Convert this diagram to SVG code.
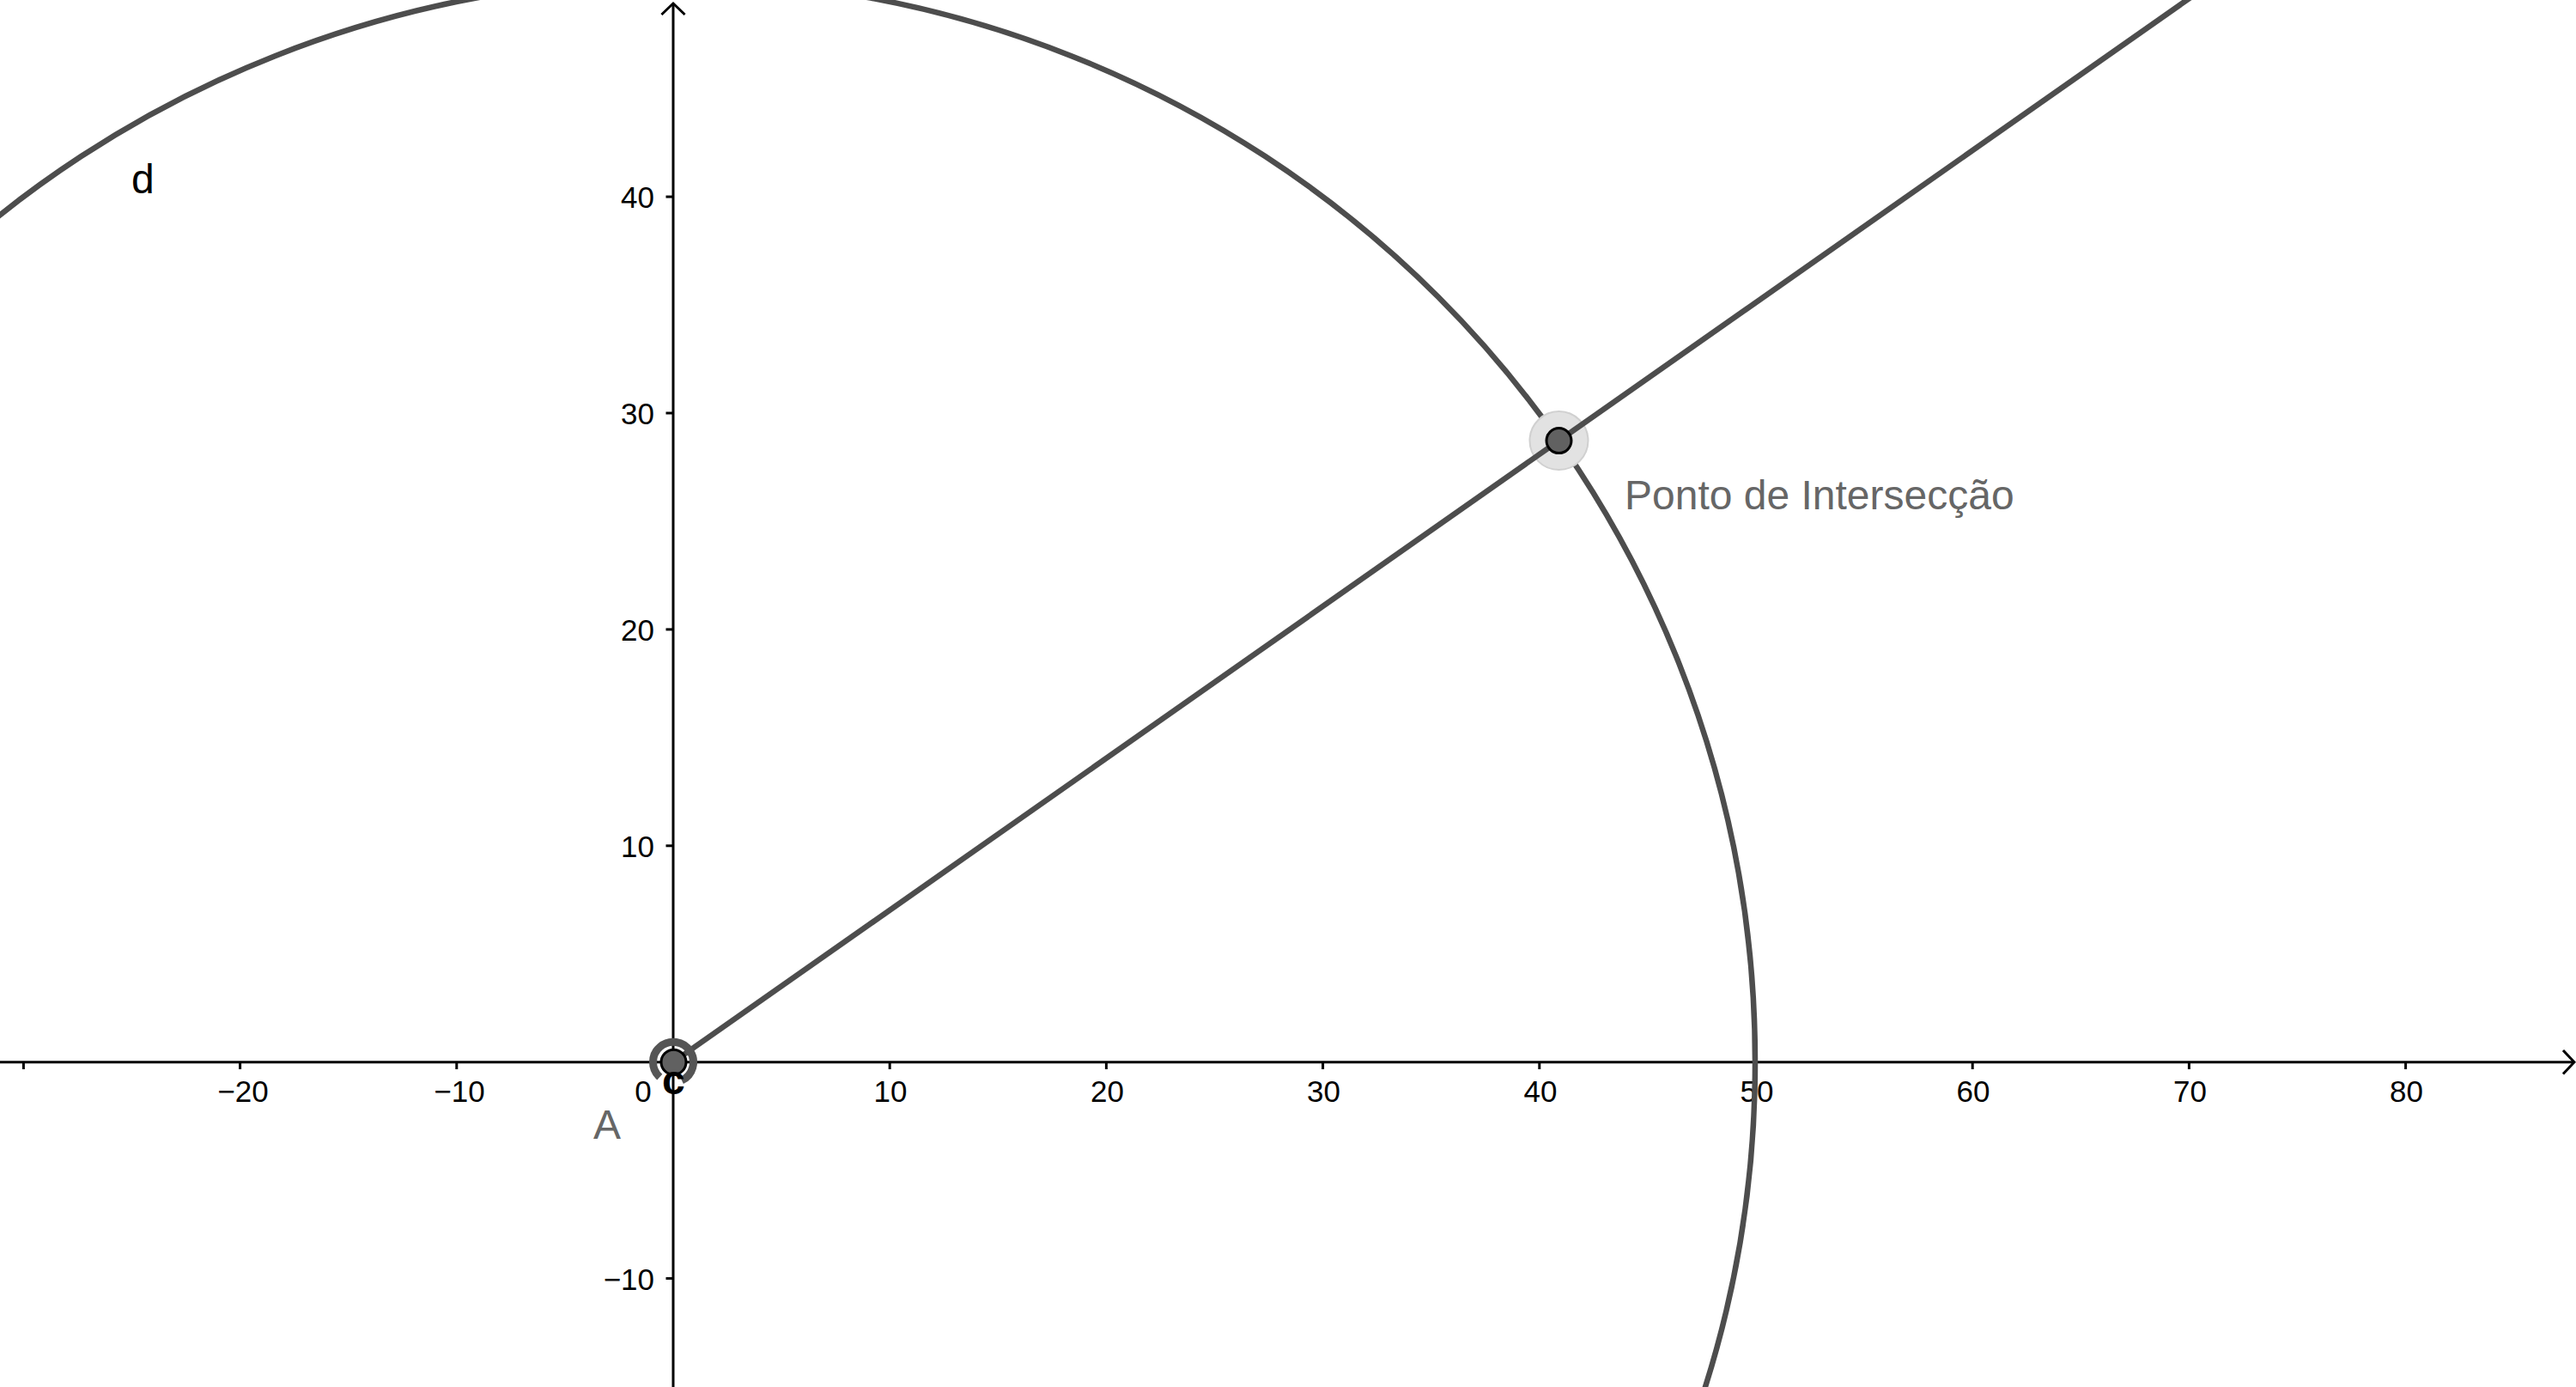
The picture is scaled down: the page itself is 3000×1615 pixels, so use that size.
<svg xmlns="http://www.w3.org/2000/svg" width="3000" height="1615" viewBox="0 0 3000 1615">
<style>
.axis{stroke:#000;stroke-width:3;fill:none}
.tick{stroke:#000;stroke-width:3}
.arrow{stroke:#000;stroke-width:3;fill:none;stroke-linecap:square}
.num{font-family:"Liberation Sans",Arial,sans-serif;font-size:35px;fill:#000}
.xl{text-anchor:middle}
.yl{text-anchor:end}
.obj{stroke:#4d4d4d;stroke-width:6.5;fill:none}
.lbl{font-family:"Liberation Sans",Arial,sans-serif;font-size:48px}
.pt{fill:#616161;stroke:#000;stroke-width:3}
</style>
<rect width="3000" height="1615" fill="#fff"/>
<g id="axes">
<line class="axis" x1="0" y1="1236.7" x2="2998" y2="1236.7"/>
<line class="axis" x1="784" y1="1615" x2="784" y2="4"/>
<polyline class="arrow" points="2986,1224 2998,1236.7 2986,1249.4"/>
<polyline class="arrow" points="771.5,16 784,4 796.5,16"/>
<g id="xticks">
<line class="tick" x1="27.4" y1="1236.7" x2="27.4" y2="1245"/>
<line class="tick" x1="279.6" y1="1236.7" x2="279.6" y2="1245"/>
<line class="tick" x1="531.8" y1="1236.7" x2="531.8" y2="1245"/>
<line class="tick" x1="1036.2" y1="1236.7" x2="1036.2" y2="1245"/>
<line class="tick" x1="1288.4" y1="1236.7" x2="1288.4" y2="1245"/>
<line class="tick" x1="1540.6" y1="1236.7" x2="1540.6" y2="1245"/>
<line class="tick" x1="1792.8" y1="1236.7" x2="1792.8" y2="1245"/>
<line class="tick" x1="2045" y1="1236.7" x2="2045" y2="1245"/>
<line class="tick" x1="2297.2" y1="1236.7" x2="2297.2" y2="1245"/>
<line class="tick" x1="2549.4" y1="1236.7" x2="2549.4" y2="1245"/>
<line class="tick" x1="2801.6" y1="1236.7" x2="2801.6" y2="1245"/>
</g>
<g id="yticks">
<line class="tick" x1="775.5" y1="984.8" x2="784" y2="984.8"/>
<line class="tick" x1="775.5" y1="732.9" x2="784" y2="732.9"/>
<line class="tick" x1="775.5" y1="481" x2="784" y2="481"/>
<line class="tick" x1="775.5" y1="229.1" x2="784" y2="229.1"/>
<line class="tick" x1="775.5" y1="1488.6" x2="784" y2="1488.6"/>
</g>
<g id="xlabels" class="num xl">
<text x="283" y="1283">−20</text>
<text x="535" y="1283">−10</text>
<text x="749" y="1283">0</text>
<text x="1037" y="1283">10</text>
<text x="1289.5" y="1283">20</text>
<text x="1541.5" y="1283">30</text>
<text x="1794" y="1283">40</text>
<text x="2046" y="1283">50</text>
<text x="2298" y="1283">60</text>
<text x="2550.5" y="1283">70</text>
<text x="2802.5" y="1283">80</text>
</g>
<g id="ylabels" class="num yl">
<text x="762" y="997.5">10</text>
<text x="762" y="745.5">20</text>
<text x="762" y="493.5">30</text>
<text x="762" y="242">40</text>
<text x="762" y="1502">−10</text>
</g>
</g>
<g id="connectors">
<circle id="d" class="obj" cx="784" cy="1236.7" r="1260"/>
<circle id="halo" cx="1815.5" cy="513.1" r="34" fill="#e2e2e2" stroke="#d0d0d0" stroke-width="2"/>
<line id="ray" class="obj" x1="784" y1="1236.7" x2="2635" y2="-61.8"/>
<path id="c" d="M 768.3 1254.2 A 23.5 23.5 0 1 1 794 1258" stroke="#555" stroke-width="9" fill="none"/>
</g>
<g id="A">
<circle class="pt" cx="784.5" cy="1236.7" r="14.5"/>
<text class="lbl" x="691" y="1326" fill="#666">A</text>
</g>
<g id="intersection">
<circle class="pt" cx="1815.5" cy="513.1" r="14.5"/>
<text class="lbl" x="1892" y="593" fill="#666">Ponto de Intersecção</text>
</g>
<g id="labels">
<text class="lbl" x="153" y="225" fill="#000">d</text>
<text class="lbl" x="771" y="1274" fill="#000" font-weight="bold" font-size="40">c</text>
</g>
</svg>
